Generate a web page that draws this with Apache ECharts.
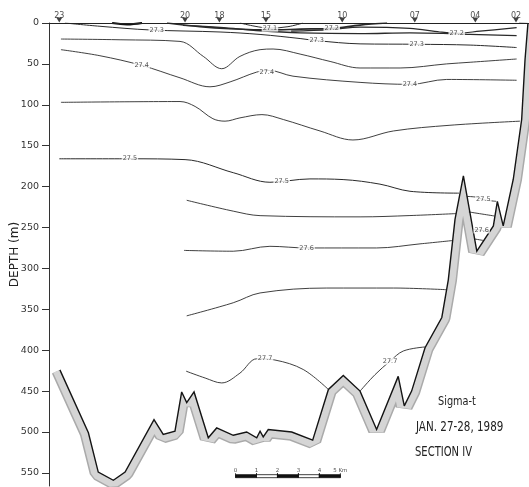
<!DOCTYPE html>
<html>
<head>
<meta charset="utf-8">
<script src="https://cdn.jsdelivr.net/npm/echarts@6/dist/echarts.min.js"></script>
<style>
  html, body { margin: 0; padding: 0; background: #fff; }
  #chart { width: 529px; height: 487px; }
</style>
</head>
<body>
<div id="chart"></div>
<script>
// ---- Section IV, sigma-t, Jan. 27-28 1989 ----
// Horizontal unit: km along the section; vertical unit: depth in metres.

// CTD stations
const stationNames = ['23', '20', '18', '15', '10', '07', '04', '02'];
const stationKm = [0.49, 6.49, 8.13, 10.35, 13.99, 17.45, 20.34, 22.28];

// Depth axis ticks
const depthTicks = [0, 50, 100, 150, 200, 250, 300, 350, 400, 450, 500, 550];

// Bottom profile
const bottomKm = [0.52, 1.88, 2.35, 3.07, 3.63, 5.01, 5.45, 6.01, 6.33, 6.57, 6.92, 7.60, 8.00, 8.79, 9.43,
  9.91, 10.07, 10.22, 10.46, 11.58, 12.58, 13.33, 14.04, 14.84, 15.63, 16.66, 16.95, 17.30, 17.94, 18.74,
  19.05, 19.37, 19.77, 20.41, 21.20, 21.39, 21.67, 22.15, 22.55, 22.71, 22.85];
const bottomDepth = [424, 501, 549, 559, 549, 485, 503, 499, 451, 464, 451, 507, 495, 504, 500,
  507, 499, 506, 497, 500, 510, 448, 431, 450, 497, 432, 468, 450, 397, 360,
  314, 240, 187, 279, 248, 218, 248, 191, 118, 45, 0];

// Isopycnals (sigma-t), each as distance / depth pairs
const iso271Km = [9.11, 9.83, 10.54, 11.40, 12.12];
const iso271Depth = [0, 4, 6.3, 4.5, 0];
const lensKm = [3.01, 3.72, 4.44];
const lensDepth = [0, 1.8, 0];
const iso272WestKm = [5.63, 7.20, 8.64, 10.54, 11.98, 13.50, 14.84, 16.13];
const iso272WestDepth = [0, 4.5, 7, 8.5, 7.5, 6.5, 2.5, 0];
const iso272EastKm = [11.55, 13.41, 14.84, 17.22, 18.65, 19.46, 20.56, 22.31];
const iso272EastDepth = [10, 8, 5, 6.6, 11, 12.5, 10, 5.7];
const iso2725Km = [6.39, 8.16, 10.07, 11.98, 14.84, 17.22, 18.80, 20.09, 22.31];
const iso2725Depth = [3, 5.5, 9.5, 12, 13, 12, 12.7, 14, 15.5];
const iso273Km = [0.76, 2.43, 4.82, 8.16, 10.07, 11.98, 12.79, 14.84, 17.56, 20.09, 22.31];
const iso273Depth = [0, 4, 8.5, 11, 14, 19, 21.6, 25.5, 26, 27, 30];
const iso2735Km = [0.57, 3.39, 6.25, 7.36, 8.24, 9.11, 10.07, 10.69, 11.98, 13.41, 14.84, 16.75, 18.97, 20.09, 22.31];
const iso2735Depth = [19.6, 20.5, 22.5, 40.8, 55.9, 40.8, 32.6, 31.8, 38, 47, 55, 55, 50, 48, 44];
const iso274Km = [0.57, 2.43, 4.42, 6.25, 7.68, 8.64, 9.91, 10.50, 11.64, 14.84, 17.22, 18.97, 22.31];
const iso274Depth = [32.6, 40, 51.8, 67, 78, 72, 60, 58, 65, 72.6, 75, 69, 70];
const iso2745Km = [0.57, 6.25, 6.97, 7.82, 8.40, 9.11, 10.16, 11.18, 12.93, 14.50, 16.43, 19.13, 22.47];
const iso2745Depth = [97, 96, 102, 117, 120, 116, 112, 118, 132, 143, 132, 125, 120];
const iso275WestKm = [0.49, 3.86, 6.49, 8.79, 10.54, 12.45, 14.03, 15.79, 17.22, 19.56];
const iso275WestDepth = [166, 166, 167, 183, 194.7, 190.6, 191.4, 197, 205.7, 208];
const iso275EastKm = [19.94, 20.40, 20.72, 21.33];
const iso275EastDepth = [212, 213, 216, 218];
const iso2755WestKm = [6.57, 8.79, 10.07, 14.84, 17.22, 19.42];
const iso2755WestDepth = [216.7, 230, 235.5, 237, 235.4, 233];
const iso2755EastKm = [20.03, 21.27];
const iso2755EastDepth = [231, 236];
const iso276WestKm = [6.44, 8.79, 10.54, 12.29, 15.63, 17.70, 19.23];
const iso276WestDepth = [278, 279, 273, 275, 275, 270, 266];
const iso276EastKm = [20.24, 21.03];
const iso276EastDepth = [252, 255];
const iso2765EastKm = [20.30, 20.76];
const iso2765EastDepth = [264, 266];
const iso2765WestKm = [6.57, 8.79, 10.07, 13.25, 16.43, 18.94];
const iso2765WestDepth = [358, 342, 330, 324, 324, 326];
const iso277WestKm = [6.54, 7.45, 8.24, 9.11, 9.91, 10.78, 12.13, 13.33];
const iso277WestDepth = [425.6, 434, 440, 428, 410.5, 412, 423.6, 448];
const iso277EastKm = [14.84, 15.55, 16.27, 16.90, 17.94];
const iso277EastDepth = [450, 430, 413.4, 401, 396];

// Contour value labels
const labelKm = [5.14, 12.77, 17.54, 10.54, 13.49, 19.45, 4.42, 10.39, 17.22, 3.86, 11.10, 20.72, 12.29, 20.64, 10.31, 16.27];
const labelDepth = [9.4, 21.6, 25.8, 6.3, 6.5, 12, 51.8, 60.4, 75, 166, 193.5, 216, 275, 253, 410.5, 413.4];
const labelText = ['27.3', '27.3', '27.3', '27.1', '27.2', '27.2', '27.4', '27.4', '27.4', '27.5', '27.5', '27.5', '27.6', '27.6', '27.7', '27.7'];

// Distance scale bar
const scaleBarOriginKm = 8.9;
const scaleBarDepth = 554;
const scaleBarTicks = [0, 1, 2, 3, 4, 5];
const scaleBarLabels = ['0', '1', '2', '3', '4', '5 Km'];

const zip = (a, b) => a.map((v, i) => [v, b[i]]);
const X_MAX = 22.9;
const Y_MAX = 566;
const FONT = '"DejaVu Sans", "Liberation Sans", sans-serif';

// [km, depth, line width]; the near-surface front is drawn heavier where lines crowd together
const contours = [
  [iso271Km, iso271Depth, 1], [iso272WestKm, iso272WestDepth, 1.7], [iso272EastKm, iso272EastDepth, 1.2],
  [iso2725Km, iso2725Depth, 1.3], [iso273Km, iso273Depth, 1], [iso2735Km, iso2735Depth, 0.9],
  [iso274Km, iso274Depth, 0.9], [iso2745Km, iso2745Depth, 0.9], [iso275WestKm, iso275WestDepth, 1],
  [iso275EastKm, iso275EastDepth, 0.9], [iso2755WestKm, iso2755WestDepth, 0.9], [iso2755EastKm, iso2755EastDepth, 0.9],
  [iso276WestKm, iso276WestDepth, 0.9], [iso276EastKm, iso276EastDepth, 0.9], [iso2765EastKm, iso2765EastDepth, 0.9],
  [iso2765WestKm, iso2765WestDepth, 0.9], [iso277WestKm, iso277WestDepth, 0.9], [iso277EastKm, iso277EastDepth, 0.9]
];

const chart = echarts.init(document.getElementById('chart'), null, { renderer: 'canvas' });
const bottom = zip(bottomKm, bottomDepth);

const series = [
  // sea-floor hatching band: a wide grey stroke along the bottom ...
  {
    type: 'line', data: bottom, symbol: 'none', z: 1, silent: true,
    lineStyle: { color: '#aaaaaa', width: 17.5, join: 'bevel' }
  },
  {
    type: 'line', data: bottom, symbol: 'none', z: 1.5, silent: true,
    lineStyle: { color: '#d5d5d5', width: 14.5, join: 'bevel' }
  },
  // ... whose water-side half is masked by the water column
  {
    type: 'line', data: bottom, symbol: 'none', z: 2, silent: true,
    lineStyle: { width: 0 },
    areaStyle: { color: '#fff', opacity: 1, origin: 'start' }
  },
  // sea-floor line
  {
    type: 'line', data: bottom, symbol: 'none', z: 5, silent: true,
    lineStyle: { color: '#141414', width: 1.4, join: 'miter', miterLimit: 3 }
  },
  // near-surface lens
  {
    type: 'line', data: zip(lensKm, lensDepth), symbol: 'none', smooth: 0.4, z: 4,
    lineStyle: { color: '#111', width: 2.2 }
  }
];

contours.forEach(([km, depth, w]) => {
  series.push({
    type: 'line', data: zip(km, depth), symbol: 'none', smooth: 0.35, z: 4, silent: true,
    lineStyle: { color: '#2a2a2a', width: w }
  });
});

// isopycnal value labels
series.push({
  type: 'scatter', z: 10, clip: false, symbolSize: 0, silent: true,
  data: labelKm.map((k, i) => [k, labelDepth[i], labelText[i]]),
  label: {
    show: true, position: 'inside', formatter: p => p.value[2],
    fontSize: 6.5, fontFamily: FONT, color: '#222',
    backgroundColor: '#fff', padding: [0, 1]
  }
});

// station markers along the surface
series.push({
  type: 'scatter', z: 12, clip: false, silent: true,
  symbol: 'triangle', symbolRotate: 180, symbolSize: [6, 5], symbolOffset: [0, -3],
  itemStyle: { color: '#111' },
  data: stationKm.map((k, i) => [k, 0, stationNames[i]]),
  label: {
    show: true, position: 'top', distance: 0, offset: [0, 2],
    formatter: p => p.value[2], fontSize: 8, fontFamily: FONT, color: '#222'
  }
});

// scale bar: alternating black / white kilometre segments
series.push({
  type: 'custom', z: 15, silent: true, clip: false,
  data: scaleBarTicks.slice(0, -1).map((t, i) => [scaleBarOriginKm + t, scaleBarOriginKm + scaleBarTicks[i + 1], scaleBarDepth, i]),
  renderItem: (params, api) => {
    const a = api.coord([api.value(0), api.value(2)]);
    const b = api.coord([api.value(1), api.value(2)]);
    const i = api.value(3);
    return {
      type: 'group',
      children: [
        {
          type: 'rect', shape: { x: a[0], y: a[1] - 1.5, width: b[0] - a[0], height: 3 },
          style: { fill: i % 2 === 0 ? '#111' : '#fff', stroke: '#111', lineWidth: 0.8 }
        },
        { type: 'line', shape: { x1: a[0], y1: a[1] - 3, x2: a[0], y2: a[1] + 1.5 }, style: { stroke: '#111', lineWidth: 0.8 } },
        { type: 'line', shape: { x1: b[0], y1: b[1] - 3, x2: b[0], y2: b[1] + 1.5 }, style: { stroke: '#111', lineWidth: 0.8 } }
      ]
    };
  }
});
series.push({
  type: 'scatter', z: 15, clip: false, symbolSize: 0, silent: true,
  data: scaleBarTicks.map((t, i) => [scaleBarOriginKm + t, scaleBarDepth, scaleBarLabels[i]]),
  label: {
    show: true, position: 'top', distance: 3, formatter: p => p.value[2],
    fontSize: 5.5, fontFamily: FONT, color: '#222'
  }
});

chart.setOption({
  animation: false,
  backgroundColor: '#fff',
  grid: { left: 49, right: 0, top: 23, bottom: 1, outerBoundsMode: 'none', containLabel: false },
  xAxis: {
    type: 'value', min: 0, max: X_MAX, position: 'top', z: 20,
    axisLine: { show: true, lineStyle: { color: '#222', width: 1.2 } },
    axisTick: { show: false }, axisLabel: { show: false }, splitLine: { show: false }
  },
  yAxis: {
    type: 'value', min: 0, max: Y_MAX, inverse: true, z: 20,
    name: 'DEPTH (m)', nameLocation: 'middle', nameGap: 28, nameMoveOverlap: false,
    nameTextStyle: { fontSize: 12, fontFamily: FONT, color: '#222' },
    axisLine: { show: true, lineStyle: { color: '#333', width: 1 } },
    axisTick: { show: true, length: 7, customValues: depthTicks, lineStyle: { color: '#333' } },
    axisLabel: { customValues: depthTicks, margin: 10, fontSize: 9.5, fontFamily: FONT, color: '#333' },
    splitLine: { show: false }
  },
  series: series,
  graphic: [
    {
      type: 'text', x: 438, y: 395, scaleX: 0.75,
      style: { text: 'Sigma-t', fontSize: 13, fontFamily: FONT, fill: '#222' }
    },
    {
      type: 'text', x: 416, y: 420, scaleX: 0.74,
      style: { text: 'JAN. 27-28, 1989', fontSize: 14, fontFamily: FONT, fill: '#222' }
    },
    {
      type: 'text', x: 415, y: 445, scaleX: 0.74,
      style: { text: 'SECTION IV', fontSize: 13.5, fontFamily: FONT, fill: '#222' }
    }
  ]
});
</script>
</body>
</html>
